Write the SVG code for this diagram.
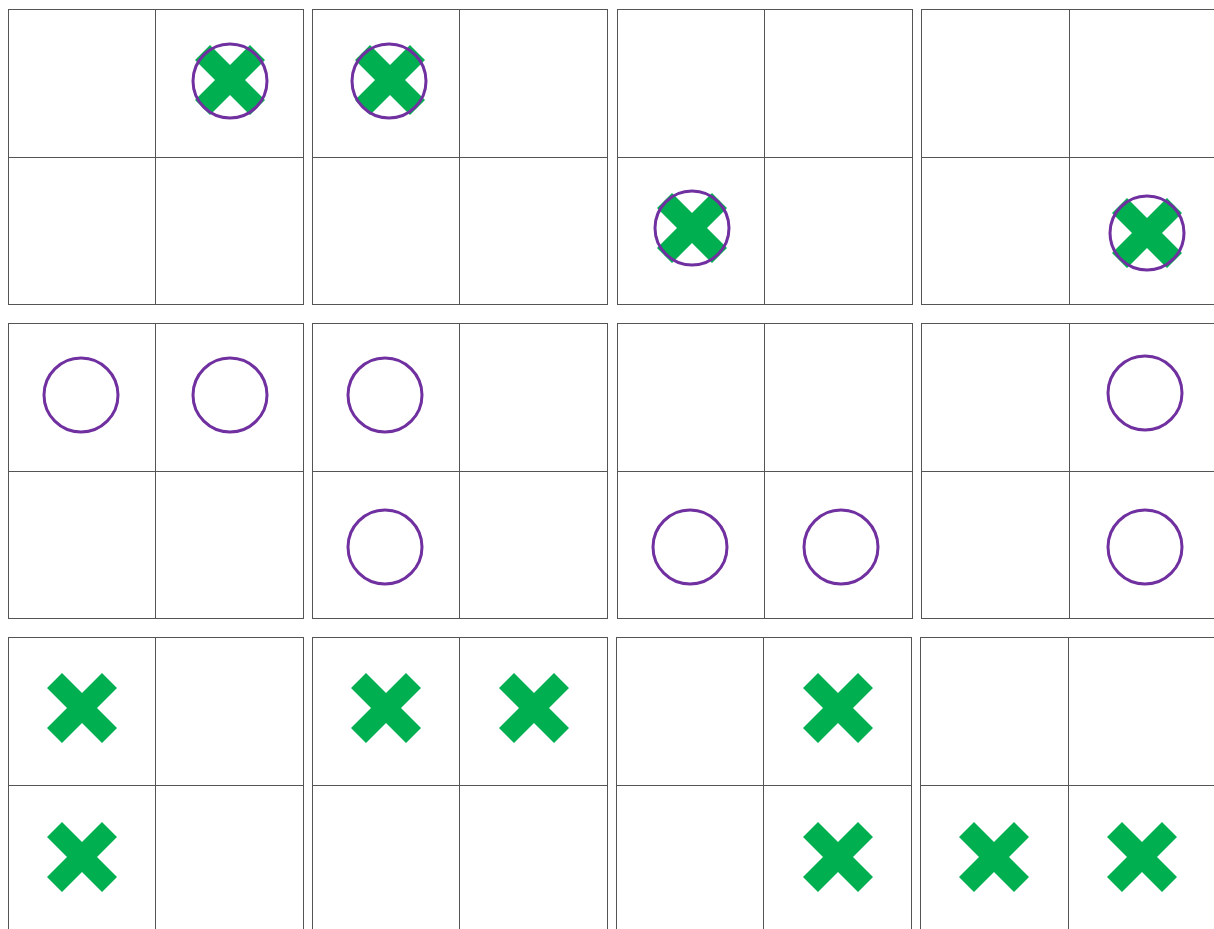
<svg xmlns="http://www.w3.org/2000/svg" width="1214" height="929" viewBox="0 0 1214 929">
<style>
.g{fill:none;stroke:#555;stroke-width:1}
.o{fill:none;stroke:#7030A0;stroke-width:3}
.x{fill:#00B050}
</style>
<defs>
<polygon id="X" points="-35,-20 -20,-35 0,-15 20,-35 35,-20 15,0 35,20 20,35 0,15 -20,35 -35,20 -15,0"/>
</defs>
<rect width="1214" height="929" fill="#fff"/>
<g id="grids">
<g id="p11"><rect class="g" x="8.5" y="9.5" width="295" height="295"/><path class="g" d="M155.5 9.5V304.5M8.5 157.5H303.5"/></g>
<g id="p12"><rect class="g" x="312.5" y="9.5" width="295" height="295"/><path class="g" d="M459.5 9.5V304.5M312.5 157.5H607.5"/></g>
<g id="p13"><rect class="g" x="617.5" y="9.5" width="295" height="295"/><path class="g" d="M764.5 9.5V304.5M617.5 157.5H912.5"/></g>
<g id="p14"><rect class="g" x="921.5" y="9.5" width="295" height="295"/><path class="g" d="M1069.5 9.5V304.5M921.5 157.5H1216.5"/></g>
<g id="p21"><rect class="g" x="8.5" y="323.5" width="295" height="295"/><path class="g" d="M155.5 323.5V618.5M8.5 471.5H303.5"/></g>
<g id="p22"><rect class="g" x="312.5" y="323.5" width="295" height="295"/><path class="g" d="M459.5 323.5V618.5M312.5 471.5H607.5"/></g>
<g id="p23"><rect class="g" x="617.5" y="323.5" width="295" height="295"/><path class="g" d="M764.5 323.5V618.5M617.5 471.5H912.5"/></g>
<g id="p24"><rect class="g" x="921.5" y="323.5" width="295" height="295"/><path class="g" d="M1069.5 323.5V618.5M921.5 471.5H1216.5"/></g>
<g id="p31"><rect class="g" x="8.5" y="637.5" width="295" height="295"/><path class="g" d="M155.5 637.5V932M8.5 785.5H303.5"/></g>
<g id="p32"><rect class="g" x="312.5" y="637.5" width="295" height="295"/><path class="g" d="M459.5 637.5V932M312.5 785.5H607.5"/></g>
<g id="p33"><rect class="g" x="616.5" y="637.5" width="295" height="295"/><path class="g" d="M763.5 637.5V932M616.5 785.5H911.5"/></g>
<g id="p34"><rect class="g" x="920.5" y="637.5" width="295" height="295"/><path class="g" d="M1068.5 637.5V932M920.5 785.5H1215.5"/></g>
</g>
<g id="row1marks">
<use href="#X" class="x" x="230" y="80"/><circle class="o" cx="230" cy="81" r="37"/>
<use href="#X" class="x" x="390" y="80"/><circle class="o" cx="389" cy="81" r="37"/>
<use href="#X" class="x" x="692" y="228"/><circle class="o" cx="692" cy="228" r="37"/>
<use href="#X" class="x" x="1147" y="233"/><circle class="o" cx="1147" cy="233" r="37"/>
</g>
<g id="row2marks">
<circle class="o" cx="81" cy="395" r="37"/>
<circle class="o" cx="230" cy="395" r="37"/>
<circle class="o" cx="385" cy="395" r="37"/>
<circle class="o" cx="385" cy="547" r="37"/>
<circle class="o" cx="690" cy="547" r="37"/>
<circle class="o" cx="841" cy="547" r="37"/>
<circle class="o" cx="1145" cy="393" r="37"/>
<circle class="o" cx="1145" cy="547" r="37"/>
</g>
<g id="row3marks">
<use href="#X" class="x" x="82" y="708"/>
<use href="#X" class="x" x="82" y="857"/>
<use href="#X" class="x" x="386" y="708"/>
<use href="#X" class="x" x="534" y="708"/>
<use href="#X" class="x" x="838" y="708"/>
<use href="#X" class="x" x="838" y="857"/>
<use href="#X" class="x" x="994" y="857"/>
<use href="#X" class="x" x="1142" y="857"/>
</g>
</svg>
